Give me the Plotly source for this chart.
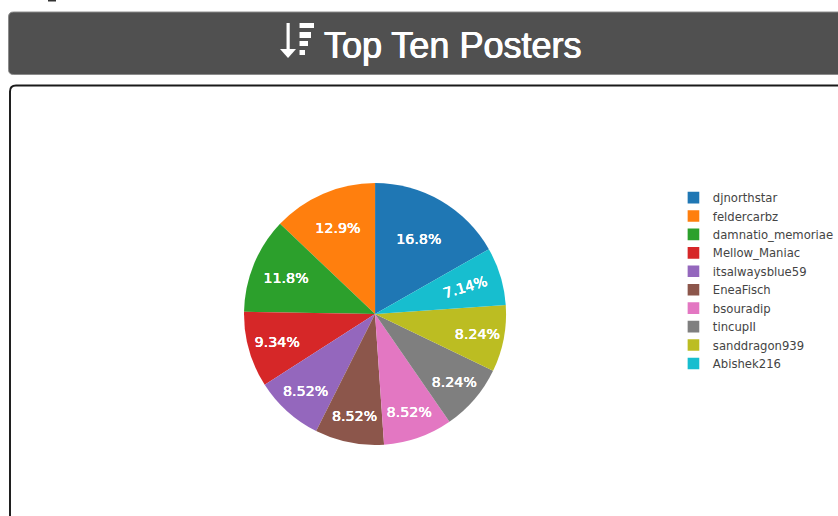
import plotly.graph_objects as go

W, H = 838, 516
PAGE_SCALE = 0.97

posters = ["djnorthstar", "feldercarbz", "damnatio_memoriae", "Mellow_Maniac", "itsalwaysblue59",
           "EneaFisch", "bsouradip", "tincupII", "sanddragon939", "Abishek216"]
post_counts = [61, 47, 43, 34, 31, 31, 31, 30, 30, 26]
slice_colors = ["#1f77b4", "#ff7f0e", "#2ca02c", "#d62728", "#9467bd",
                "#8c564b", "#e377c2", "#7f7f7f", "#bcbd22", "#17becf"]
title_text = "Top Ten Posters"


def px(x):
    return x / W


def py(y):
    return 1 - y / H


def rounded(x0, y0, x1, y1, r):
    return (f"M {px(x0 + r)} {py(y0)} L {px(x1 - r)} {py(y0)} Q {px(x1)} {py(y0)} {px(x1)} {py(y0 + r)} "
            f"L {px(x1)} {py(y1 - r)} Q {px(x1)} {py(y1)} {px(x1 - r)} {py(y1)} "
            f"L {px(x0 + r)} {py(y1)} Q {px(x0)} {py(y1)} {px(x0)} {py(y1 - r)} "
            f"L {px(x0)} {py(y0 + r)} Q {px(x0)} {py(y0)} {px(x0 + r)} {py(y0)} Z")


def box(x0, y0, x1, y1, color):
    return dict(type="rect", xref="paper", yref="paper", x0=px(x0), x1=px(x1), y0=py(y0), y1=py(y1),
                fillcolor=color, line_width=0, layer="below")


shapes = [
    dict(type="path", xref="paper", yref="paper", path=rounded(8.5, 12, 900, 74.5, 5),
         fillcolor="#505050", line=dict(color="#8a8a8a", width=1), layer="below"),
    dict(type="path", xref="paper", yref="paper", path=rounded(10, 85.5, 900, 600, 6),
         fillcolor="#ffffff", line=dict(color="#1a1a1a", width=2), layer="below"),
    box(48, 0, 56, 1.5, "#333333"),
    # sort icon: arrow and stepped bars
    box(286.5, 23, 289.7, 50, "#ffffff"),
    box(299.5, 23, 314, 28, "#ffffff"),
    box(299.5, 32, 311, 38, "#ffffff"),
    box(299.5, 41, 308, 46, "#ffffff"),
    box(299.5, 50, 305, 55, "#ffffff"),
    dict(type="path", xref="paper", yref="paper",
         path=f"M {px(280)} {py(49)} L {px(296)} {py(49)} L {px(288)} {py(58)} Z",
         fillcolor="#ffffff", line_width=0, layer="below"),
]

fig = go.Figure(go.Pie(
    labels=posters,
    values=post_counts,
    sort=False,
    direction="counterclockwise",
    marker=dict(colors=slice_colors),
    textinfo="percent",
    textposition="inside",
    insidetextfont=dict(color="#ffffff", family="DejaVu Sans", size=14.7,
                        shadow="0.2px 0 0 #fff, -0.2px 0 0 #fff"),
    domain=dict(x=[px(244), px(506)], y=[py(445), py(183)]),
))

fig.update_layout(
    width=W / PAGE_SCALE, height=H / PAGE_SCALE,
    margin=dict(l=0, r=0, t=0, b=0, autoexpand=False),
    paper_bgcolor="#ffffff",
    shapes=shapes,
    showlegend=True,
    legend=dict(x=px(674), y=py(183.5), xanchor="left", yanchor="top",
                font=dict(family="DejaVu Sans", size=12, color="#444444"),
                bgcolor="rgba(0,0,0,0)"),
    annotations=[dict(text=title_text, xref="paper", yref="paper", x=px(322), y=py(46),
                      xanchor="left", yanchor="middle", showarrow=False,
                      font=dict(family="Liberation Sans", size=36 / PAGE_SCALE, color="#ffffff",
                                shadow="0.5px 0 0 #fff, -0.5px 0 0 #fff"))],
)

fig.write_html("out.html", config=dict(displayModeBar=False),
               post_script=f"document.body.style.margin='0';document.body.style.zoom={PAGE_SCALE};")
